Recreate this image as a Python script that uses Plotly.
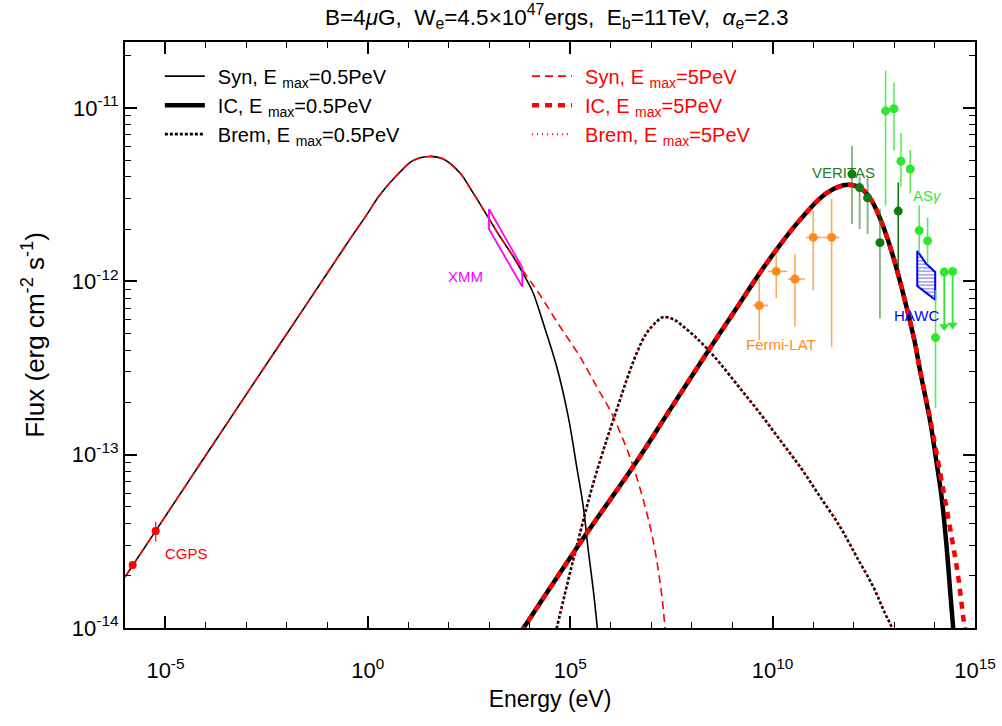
import numpy as np
import plotly.graph_objects as go

# ---------------- model curves: log10 E [eV] and log10 flux [erg cm^-2 s^-1] ----------------
syn_common_logE = [-6.000, -5.242, -4.147, -2.912, -1.430, -0.854, -0.442, -0.029, 0.299, 0.794,
                   1.122, 1.535, 1.863, 2.276, 2.604, 2.935, 3.264, 3.592]
syn_common_logF = [-13.706, -13.440, -13.054, -12.621, -12.103, -11.901, -11.757, -11.617, -11.501, -11.370,
                   -11.303, -11.280, -11.295, -11.376, -11.492, -11.617, -11.742, -11.857]
syn_lo_tail_logE = [3.923, 4.087, 4.334, 4.665, 4.951, 5.159, 5.322, 5.445, 5.569, 5.668, 5.710]
syn_lo_tail_logF = [-11.992, -12.069, -12.242, -12.492, -12.781, -13.069, -13.300, -13.550, -13.781, -14.002, -14.185]
syn_hi_tail_logE = [3.923, 4.170, 4.746, 5.240, 5.653, 5.981, 6.310, 6.557, 6.804, 7.011, 7.175, 7.283, 7.340, 7.365]
syn_hi_tail_logF = [-11.969, -12.050, -12.261, -12.435, -12.608, -12.742, -12.915, -13.069, -13.261, -13.454,
                    -13.665, -13.857, -14.002, -14.127]

ic_common_logE = [3.600, 3.839, 5.406, 6.557, 7.463, 8.452, 9.027, 9.852, 10.675, 11.342, 11.861, 12.231,
                  12.478, 12.725, 12.972, 13.170, 13.343, 13.516, 13.639]
ic_common_logF = [-14.086, -14.002, -13.454, -13.069, -12.742, -12.386, -12.184, -11.896, -11.646, -11.490,
                  -11.444, -11.473, -11.548, -11.680, -11.853, -12.021, -12.182, -12.355, -12.511]
ic_lo_tail_logE = [13.886, 14.052, 14.175, 14.299, 14.398, 14.462, 14.500]
ic_lo_tail_logF = [-12.800, -13.048, -13.244, -13.533, -13.821, -14.002, -14.130]
ic_hi_tail_logE = [13.886, 14.215, 14.422, 14.586, 14.709, 14.751, 14.800]
ic_hi_tail_logF = [-12.788, -13.204, -13.475, -13.706, -13.937, -14.002, -14.100]

brem_logE = [4.550, 4.665, 4.951, 5.240, 5.569, 5.900, 6.147, 6.394, 6.641, 6.888, 7.135, 7.298, 7.545,
             7.792, 8.081, 8.370, 8.699, 9.193, 9.687, 10.181, 10.675, 11.169, 11.663, 12.076, 12.486,
             12.775, 12.940, 13.050]
brem_logF = [-14.115, -14.002, -13.723, -13.454, -13.165, -12.915, -12.742, -12.569, -12.415, -12.299,
             -12.233, -12.207, -12.219, -12.261, -12.319, -12.386, -12.473, -12.617, -12.761, -12.915,
             -13.069, -13.242, -13.415, -13.589, -13.762, -13.915, -13.993, -14.070]

# ---------------- observational data (E in eV, flux in erg cm^-2 s^-1) ----------------
cgps_E = [1.55e-6, 5.73e-6]
cgps_F = [2.31e-14, 3.63e-14]
cgps_Fhi = [2.31e-14, 4.10e-14]
cgps_Flo = [2.31e-14, 3.15e-14]

xmm_E = [9.82e2, 6.53e3, 6.53e3, 9.82e2, 9.82e2]
xmm_F = [2.61e-12, 1.20e-12, 9.31e-13, 2.00e-12, 2.61e-12]

fermi_E = [4.67e9, 1.23e10, 3.56e10, 1.01e11, 2.87e11]
fermi_Elo = [3.21e9, 7.80e9, 2.43e10, 6.65e10, 1.78e11]
fermi_Ehi = [7.80e9, 2.30e10, 6.28e10, 1.72e11, 4.43e11]
fermi_F = [7.25e-13, 1.14e-12, 1.03e-12, 1.79e-12, 1.79e-12]
fermi_Flo = [4.59e-13, 7.97e-13, 5.48e-13, 8.91e-13, 4.17e-13]
fermi_Fhi = [1.04e-12, 1.42e-12, 1.43e-12, 2.58e-12, 2.98e-12]

ver_E = [9.12e11, 1.41e12, 2.22e12, 4.48e12]
ver_F = [4.15e-12, 3.47e-12, 3.03e-12, 1.67e-12]
ver_Fhi = [6.04e-12, 4.02e-12, 3.94e-12, 2.61e-12]
ver_Flo = [2.14e-12, 2.00e-12, 1.87e-12, 6.12e-13]
ver2_E = [1.27e13]
ver2_F = [2.54e-12]
ver2_Fhi = [3.72e-12]
ver2_Flo = [1.19e-12]

asg_E = [6.19e12, 9.94e12, 1.48e13, 2.51e13, 4.19e13, 6.75e13, 1.06e14]
asg_F = [9.61e-12, 9.89e-12, 4.93e-12, 4.44e-12, 1.96e-12, 1.71e-12, 4.73e-13]
asg_Fhi = [1.64e-11, 1.40e-11, 7.16e-12, 5.73e-12, 2.74e-12, 2.33e-12, 8.91e-13]
asg_Flo = [2.74e-12, 5.68e-12, 3.52e-12, 3.22e-12, 1.45e-12, 1.27e-12, 1.86e-13]
asg_ul_E = [1.74e14, 2.80e14]
asg_ul_F = [1.13e-12, 1.14e-12]
asg_ul_tip = [5.49e-13, 5.60e-13]

hawc_E = [3.74e13, 6.24e13, 1.04e14, 1.04e14, 6.24e13, 3.74e13, 3.74e13]
hawc_F = [1.50e-12, 1.26e-12, 1.13e-12, 7.82e-13, 8.57e-13, 9.39e-13, 1.50e-12]

x_tickvals = [1e-5, 1e0, 1e5, 1e10, 1e15]
x_ticktext = ["10<sup>-5</sup>", "10<sup>0</sup>", "10<sup>5</sup>", "10<sup>10</sup>", "10<sup>15</sup>"]
y_tickvals = [1e-14, 1e-13, 1e-12, 1e-11]
y_ticktext = ["10<sup>-14</sup>", "10<sup>-13</sup>", "10<sup>-12</sup>", "10<sup>-11</sup>"]


def p10(a):
    return list(10.0 ** np.asarray(a, dtype=float))


FONT = "Liberation Sans, Arial, Helvetica, sans-serif"
RED = "#ff0000"
SP = "\u2009\u2009"   # small gap between legend sample and label
GAP = "\u00a0\u00a0"
SM = dict(shape="spline", smoothing=1.0)

fig = go.Figure()

# black (E_max = 0.5 PeV) curves
fig.add_trace(go.Scatter(x=p10(syn_common_logE + syn_lo_tail_logE), y=p10(syn_common_logF + syn_lo_tail_logF),
                         mode="lines", line=dict(color="black", width=1.6, **SM),
                         name=SP + "Syn, E <sub>max</sub>=0.5PeV", legend="legend"))
fig.add_trace(go.Scatter(x=p10(ic_common_logE + ic_lo_tail_logE), y=p10(ic_common_logF + ic_lo_tail_logF),
                         mode="lines", line=dict(color="black", width=4.5, **SM),
                         name=SP + "IC, E <sub>max</sub>=0.5PeV", legend="legend"))
fig.add_trace(go.Scatter(x=p10(brem_logE), y=p10(brem_logF),
                         mode="lines", line=dict(color="black", width=2.6, dash="3px,2px", **SM),
                         name=SP + "Brem, E <sub>max</sub>=0.5PeV", legend="legend"))
# red (E_max = 5 PeV) curves
fig.add_trace(go.Scatter(x=p10(syn_common_logE + syn_hi_tail_logE), y=p10(syn_common_logF + syn_hi_tail_logF),
                         mode="lines", line=dict(color=RED, width=1.6, dash="8px,5px", **SM),
                         name=SP + "Syn, E <sub>max</sub>=5PeV", legend="legend2"))
fig.add_trace(go.Scatter(x=p10(ic_common_logE + ic_hi_tail_logE), y=p10(ic_common_logF + ic_hi_tail_logF),
                         mode="lines", line=dict(color=RED, width=4.5, dash="7px,6px", **SM),
                         name=SP + "IC, E <sub>max</sub>=5PeV", legend="legend2"))
fig.add_trace(go.Scatter(x=p10(brem_logE), y=p10(brem_logF),
                         mode="lines", line=dict(color=RED, width=2.0, dash="1px,4px", **SM),
                         name=SP + "Brem, E <sub>max</sub>=5PeV", legend="legend2"))

# XMM bowtie
fig.add_trace(go.Scatter(x=xmm_E, y=xmm_F, mode="lines", line=dict(color="#ff00ff", width=1.8),
                         showlegend=False))
# HAWC bowtie (hatched)
fig.add_trace(go.Scatter(x=hawc_E, y=hawc_F, mode="lines", fill="toself",
                         fillcolor="rgba(0,0,0,0)",
                         fillpattern=dict(shape="-", fgcolor="#0000ff", bgcolor="rgba(0,0,0,0)",
                                          size=3.5, solidity=0.35),
                         line=dict(color="#0000ff", width=2), showlegend=False))

# CGPS
fig.add_trace(go.Scatter(x=cgps_E, y=cgps_F, mode="markers",
                         marker=dict(color=RED, size=8),
                         error_y=dict(type="data", symmetric=False,
                                      array=[h - f for h, f in zip(cgps_Fhi, cgps_F)],
                                      arrayminus=[f - l for f, l in zip(cgps_F, cgps_Flo)],
                                      color=RED, thickness=1.2, width=0),
                         showlegend=False))

# Fermi-LAT
ORANGE = "#ff8c1a"
fig.add_trace(go.Scatter(x=fermi_E, y=fermi_F, mode="markers",
                         marker=dict(color=ORANGE, size=9),
                         error_x=dict(type="data", symmetric=False,
                                      array=[h - e for h, e in zip(fermi_Ehi, fermi_E)],
                                      arrayminus=[e - l for e, l in zip(fermi_E, fermi_Elo)],
                                      color="rgba(255,140,26,0.75)", thickness=1.6, width=0),
                         error_y=dict(type="data", symmetric=False,
                                      array=[h - f for h, f in zip(fermi_Fhi, fermi_F)],
                                      arrayminus=[f - l for f, l in zip(fermi_F, fermi_Flo)],
                                      color="rgba(255,140,26,0.75)", thickness=1.6, width=0),
                         showlegend=False))

# VERITAS
VGREEN = "#137a13"
fig.add_trace(go.Scatter(x=ver_E, y=ver_F, mode="markers",
                         marker=dict(color=VGREEN, size=9),
                         error_y=dict(type="data", symmetric=False,
                                      array=[h - f for h, f in zip(ver_Fhi, ver_F)],
                                      arrayminus=[f - l for f, l in zip(ver_F, ver_Flo)],
                                      color="rgba(40,125,40,0.6)", thickness=1.8, width=0),
                         showlegend=False))
fig.add_trace(go.Scatter(x=ver2_E, y=ver2_F, mode="markers",
                         marker=dict(color=VGREEN, size=9),
                         error_y=dict(type="data", symmetric=False,
                                      array=[h - f for h, f in zip(ver2_Fhi, ver2_F)],
                                      arrayminus=[f - l for f, l in zip(ver2_F, ver2_Flo)],
                                      color=VGREEN, thickness=1.6, width=0),
                         showlegend=False))

# AS-gamma
LIME = "#2ee82e"
fig.add_trace(go.Scatter(x=asg_E, y=asg_F, mode="markers",
                         marker=dict(color=LIME, size=9),
                         error_y=dict(type="data", symmetric=False,
                                      array=[h - f for h, f in zip(asg_Fhi, asg_F)],
                                      arrayminus=[f - l for f, l in zip(asg_F, asg_Flo)],
                                      color="rgba(46,232,46,0.8)", thickness=1.6, width=0),
                         showlegend=False))
ul_x, ul_y = [], []
for e, f, t in zip(asg_ul_E, asg_ul_F, asg_ul_tip):
    ul_x += [e, e, None]
    ul_y += [f, t, None]
fig.add_trace(go.Scatter(x=ul_x, y=ul_y, mode="lines", line=dict(color=LIME, width=1.8), showlegend=False))
fig.add_trace(go.Scatter(x=asg_ul_E, y=asg_ul_F, mode="markers", marker=dict(color=LIME, size=9),
                         showlegend=False))
fig.add_trace(go.Scatter(x=asg_ul_E, y=asg_ul_tip, mode="markers",
                         marker=dict(color=LIME, size=9, symbol="triangle-down"), showlegend=False))

# dataset labels (log coordinates on log axes)
labels = [
    ("CGPS", -4.47, -13.573, RED),
    ("XMM", 2.424, -11.975, "#ff00ff"),
    ("VERITAS", 11.762, -11.374, "#1f7f1f"),
    ("AS<i>γ</i>", 13.837, -11.507, LIME),
    ("HAWC", 13.565, -12.200, "#0000ff"),
    ("Fermi-LAT", 10.206, -12.367, ORANGE),
]
for txt, lx, ly, col in labels:
    fig.add_annotation(x=lx, y=ly, xref="x", yref="y", text=txt, showarrow=False,
                       font=dict(family=FONT, size=15, color=col))

fig.update_layout(
    width=1002, height=726,
    paper_bgcolor="white", plot_bgcolor="white",
    margin=dict(l=125, r=27, t=42, b=98, autoexpand=False),
    font=dict(family=FONT, size=20, color="black"),
    title=dict(text="B=4<i>μ</i>G," + GAP + "W<sub>e</sub>=4.5×10<sup>47</sup>ergs," + GAP +
                    "E<sub>b</sub>=11TeV," + GAP + "<i>α</i><sub>e</sub>=2.3",
               x=0.508, xref="paper", y=0.977, yanchor="middle", xanchor="center",
               font=dict(family=FONT, size=22.5, color="black")),
    legend=dict(x=0.041, y=0.975, xanchor="left", yanchor="top", bgcolor="rgba(0,0,0,0)",
                font=dict(family=FONT, size=20, color="black"), itemwidth=40,
                tracegroupgap=0),
    legend2=dict(x=0.473, y=0.975, xanchor="left", yanchor="top", bgcolor="rgba(0,0,0,0)",
                 font=dict(family=FONT, size=20, color=RED), itemwidth=40,
                 tracegroupgap=0),
    xaxis=dict(type="log", range=[-6, 15], tickvals=x_tickvals, ticktext=x_ticktext,
               automargin=False,
               ticks="inside", ticklen=12, tickwidth=1.6, tickcolor="black",
               minor=dict(tickvals=[10.0 ** k for k in range(-6, 16)], ticks="inside", ticklen=6,
                          tickwidth=1.4, tickcolor="black"),
               showline=True, linewidth=2, linecolor="black", mirror="ticks",
               showgrid=False, zeroline=False,
               tickfont=dict(family=FONT, size=22), ticklabelstandoff=22,
               title=dict(text="Energy (eV)", font=dict(family=FONT, size=23), standoff=8)),
    yaxis=dict(type="log", range=[-14, -10.62], tickvals=y_tickvals, ticktext=y_ticktext,
               automargin=False,
               ticks="inside", ticklen=12, tickwidth=1.6, tickcolor="black",
               minor=dict(tickvals=[m * 10.0 ** d for d in range(-14, -10) for m in range(2, 10)],
                          ticks="inside", ticklen=6, tickwidth=1.4, tickcolor="black"),
               showline=True, linewidth=2, linecolor="black", mirror="ticks",
               showgrid=False, zeroline=False,
               tickfont=dict(family=FONT, size=22),
               title=dict(text="Flux (erg cm<sup>-2</sup> s<sup>-1</sup>)", font=dict(family=FONT, size=26),
                          standoff=20)),
)

fig.write_html("out.html")
